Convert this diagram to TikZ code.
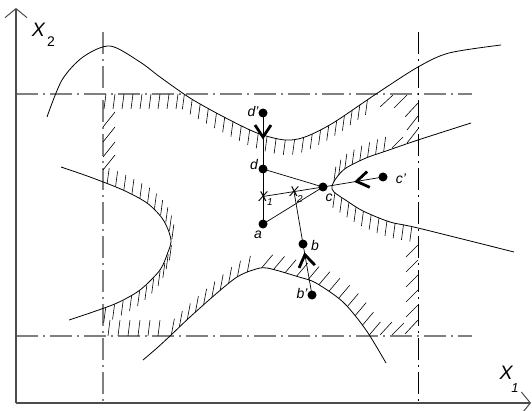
\documentclass[tikz,border=0pt]{standalone}
\usepackage{fontspec}
\setmainfont{Liberation Sans}
\usetikzlibrary{decorations.markings,arrows.meta}
\begin{document}
\begin{tikzpicture}[x=1pt,y=1pt,
  curve/.style={line width=0.8pt},
  hatch/.style={line width=0.6pt},
  dashdot/.style={line width=1.4pt, draw=black!50, dash pattern=on 22pt off 5pt on 2pt off 5pt},
  dashdotdark/.style={line width=0.8pt, draw=black, dash pattern=on 22pt off 5pt on 2pt off 5pt},
  axis/.style={line width=1.3pt, draw=black!70, -{Straight Barb[length=9pt,width=22pt,line width=1pt]}},
  dot/.style={circle, fill=black, inner sep=0pt, minimum size=9pt},
  lbl/.style={font=\fontsize{14}{14}\selectfont\itshape, inner sep=0pt},
  sublbl/.style={font=\fontsize{10}{10}\selectfont\itshape, inner sep=0pt},
  axlbl/.style={font=\fontsize{19.5}{19.5}\selectfont\itshape, inner sep=0pt},
  axsub/.style={font=\fontsize{14}{14}\selectfont, inner sep=0pt},
  conn/.style={line width=0.7pt},
  chevron/.style={postaction={decorate, decoration={markings, mark=at position #1 with {\draw[line width=2.8pt] (-12,8) -- (0,0) -- (-12,-8);}}}},
  hatchset/.style n args={4}{postaction={decorate, decoration={markings, mark=between positions #1 and #2 step #3 with {\pgftransformresetnontranslations \draw[hatch] #4;}}}},
]
\useasboundingbox (0,0) rectangle (532,410);

% dash-dot lines
\draw[dashdot] (16,316) -- (472,316);
\draw[dashdot] (16,74) -- (472,74);
\draw[dashdot] (103,378) -- (103,7);
\draw[dashdotdark] (418,378) -- (418,7);

% axes
\draw[axis] (16,7) -- (16,402);
\draw[axis] (16,7) -- (531,7);
\node[axlbl] (X2) at (38.5,380) {X};
\node[axsub] (X2s) at (51,368) {2};
\node[axlbl] (X1) at (506,377.5-340) {X};
\node[sublbl, font=\fontsize{13}{13}\selectfont\itshape] (X1s) at (515,22) {1};

% upper curve
\draw[curve, hatchset={190pt}{402pt}{9.3pt}{(0,0) -- (-2,-15)}]
  plot[smooth] coordinates {(47,293) (62,330) (83,353) (110,364) (140,348) (160,333) (190,312) (222,294) (257,277) (285,270) (305,273) (333,287) (376,316) (418,343) (449,357) (501,365)};

% lower curve
\draw[curve, hatchset={38pt}{146pt}{11pt}{(0,0) -- (3,16)}, hatchset={152pt}{284pt}{12pt}{(0,0) -- (11,13)}]
  plot[smooth] coordinates {(143,50) (157,62) (170,74) (190,93) (217,117) (237,133) (253,140) (267,142) (299,133) (316,127) (343,108) (366,80) (386,47)};

% left parabola
\draw[curve, hatchset={48pt}{138pt}{9pt}{(1,0) -- (3,15)}, hatchset={144pt}{245pt}{9.5pt}{(1,0) -- (-1,-15)}]
  plot[smooth] coordinates {(61,243) (90,233) (123,220) (147,207) (162,192) (169,178) (171,168) (168,158) (160,140) (140,120) (117,107) (90,97) (69,90)};

% right parabola
\draw[curve, hatchset={92pt}{158pt}{8.5pt}{(0,0) -- (2,15)}, hatchset={164pt}{250pt}{8.5pt}{(0,0) -- (-2,-15)}]
  plot[smooth] coordinates {(471,287) (418,270) (389,260) (366,252) (346,242) (337,233) (332,224) (334,218) (347,209) (363,199) (390,188) (418,182) (514,158)};

% straight-line hatches
\foreach \x in {106,115,...,178} \draw[hatch] (\x,316) -- (\x-2,301);
\foreach \x in {108,118,...,158} \draw[hatch] (\x,74) -- (\x+2,90);
\foreach \y in {283,268,253,240} \draw[hatch] (103,\y) -- (115,\y+15);
\draw[hatch] (380,303) -- (393,315);
\draw[hatch] (394,302) -- (407,315);
\draw[hatch] (405,293) -- (418,307);
\draw[hatch] (407,280) -- (418,294);
\draw[hatch] (407,267) -- (418,281);
\draw[hatch] (392,262) -- (403,273);
\foreach \y in {153,138,123,108,93} \draw[hatch] (406,\y) -- (418,\y+12);
\draw[hatch] (405,76) -- (418,90);
\draw[hatch] (392,75) -- (404,87);
\draw[hatch] (380,75) -- (392,88);

% points
\node[dot] (dp) at (263,297) {};
\node[dot] (d) at (263,241) {};
\coordinate (x1) at (263,213.5);
\node[dot] (a) at (263,186) {};
\coordinate (x2) at (294,218.4);
\node[dot] (c) at (323,223) {};
\node[dot] (cp) at (383,233) {};
\node[dot] (b) at (303,166) {};
\node[dot] (bp) at (312,115) {};

% connectors
\draw[conn, chevron=0.43] (dp.center) -- (d.center);
\draw[conn] (d.center) -- (a.center);
\draw[conn] (d.center) -- (c.center);
\draw[conn] (a.center) -- (c.center);
\draw[conn] (x1) -- (c.center);
\draw[conn] (x2) -- (b.center);
\draw[conn, chevron=0.79] (bp.center) -- (b.center);
\draw[conn, chevron=0.44] (cp.center) -- (c.center);

% labels
\node[lbl] (ldp) at (253,298) {d'};
\node[lbl] (ld) at (254,245) {d};
\node[lbl] (la) at (258,175) {a};
\node[lbl] (lc) at (329,212) {c};
\node[lbl] (lcp) at (401,231) {c'};
\node[lbl] (lb) at (315,165) {b};
\node[lbl] (lbp) at (302,117) {b'};
\node[lbl] (lx1) at (x1) {X};
\node[sublbl] (lx1s) at (270,208) {1};
\node[lbl] (lx2) at (x2) {X};
\node[sublbl] (lx2s) at (300,211) {2};
\end{tikzpicture}
\end{document}
